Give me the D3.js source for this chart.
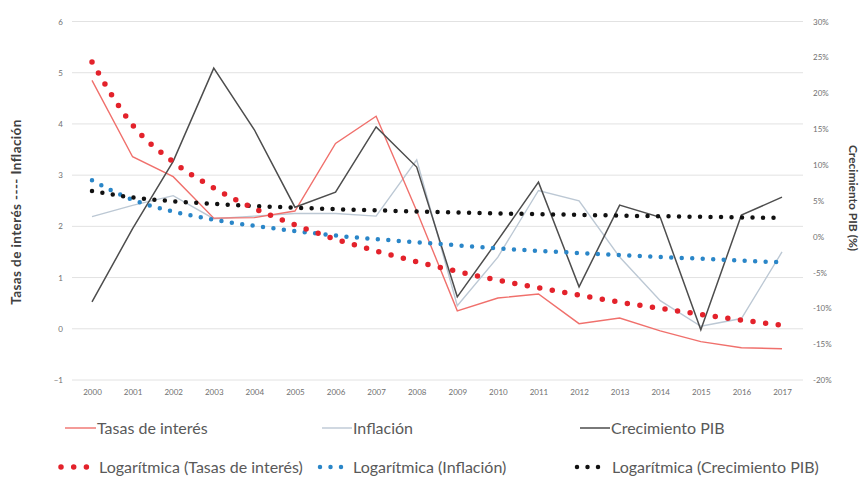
<!DOCTYPE html>
<html>
<head>
<meta charset="utf-8">
<script src="https://cdn.jsdelivr.net/npm/d3@7"></script>
<style>
  html, body { margin: 0; padding: 0; background: #fff; }
  svg { display: block; font-family: Lato, "Open Sans", sans-serif; }
</style>
</head>
<body>
<svg id="chart" width="863" height="478"></svg>
<script>
// ---- data ----
const years = ["2000","2001","2002","2003","2004","2005","2006","2007","2008","2009","2010","2011","2012","2013","2014","2015","2016","2017"];
const tasas = [4.85, 3.36, 2.97, 2.16, 2.17, 2.3, 3.62, 4.15, 2.3, 0.35, 0.6, 0.68, 0.1, 0.21, -0.04, -0.25, -0.37, -0.39];
const inflacion = [2.19, 2.41, 2.6, 2.15, 2.2, 2.25, 2.25, 2.2, 3.3, 0.45, 1.4, 2.7, 2.5, 1.4, 0.55, 0.05, 0.2, 1.5];
const pib = [-9.1, 1.1, 10.5, 23.5, 14.9, 4.1, 6.2, 15.3, 9.7, -8.4, -0.5, 7.6, -7.0, 4.4, 2.7, -13.0, 3.0, 5.5];
const logTasas = [5.21, 3.98, 3.26, 2.75, 2.35, 2.03, 1.75, 1.52, 1.31, 1.12, 0.95, 0.80, 0.66, 0.52, 0.40, 0.28, 0.17, 0.07];
const logInflacion = [2.90, 2.52, 2.29, 2.13, 2.01, 1.91, 1.82, 1.75, 1.69, 1.63, 1.57, 1.52, 1.48, 1.44, 1.40, 1.37, 1.33, 1.30];
const logPib = [6.36, 5.46, 4.93, 4.56, 4.27, 4.03, 3.83, 3.66, 3.50, 3.37, 3.24, 3.13, 3.03, 2.93, 2.84, 2.76, 2.68, 2.60];
const leftTicks = [-1, 0, 1, 2, 3, 4, 5, 6];
const rightTicks = [-20, -15, -10, -5, 0, 5, 10, 15, 20, 25, 30];
const leftTitle = "Tasas de interés ---- Inflación";
const rightTitle = "Crecimiento PIB (%)";

// ---- layout ----
const svg = d3.select("#chart");
const plotL = 72, plotR = 803, plotT = 21.5, plotB = 380;
const x = d3.scalePoint().domain(years).range([92, 782]);
const yL = d3.scaleLinear().domain([-1, 6]).range([plotB, plotT]);
const yR = d3.scaleLinear().domain([-20, 30]).range([plotB, plotT]);

// gridlines
svg.append("g").selectAll("line").data(leftTicks).join("line")
  .attr("x1", plotL).attr("x2", plotR)
  .attr("y1", d => yL(d)).attr("y2", d => yL(d))
  .attr("stroke", "#e2e2e2").attr("stroke-width", 1);

// left axis
const axL = svg.append("g").attr("transform", `translate(${plotL - 9},0)`)
  .call(d3.axisLeft(yL).tickValues(leftTicks).tickSize(0).tickPadding(0).tickFormat(d3.format("d")));
axL.select(".domain").remove();
axL.selectAll("text").attr("font-size", 8).attr("fill", "#707070").attr("font-family", "Lato");

// right axis
const axR = svg.append("g").attr("transform", `translate(${plotR + 10},0)`)
  .call(d3.axisRight(yR).tickValues(rightTicks).tickSize(0).tickPadding(0).tickFormat(d => d + "%"));
axR.select(".domain").remove();
axR.selectAll("text").attr("font-size", 8).attr("fill", "#707070").attr("font-family", "Lato");

// bottom axis
const axB = svg.append("g").attr("transform", `translate(0,${plotB + 9})`)
  .call(d3.axisBottom(x).tickSize(0).tickPadding(0));
axB.select(".domain").remove();
axB.selectAll("text").attr("font-size", 8).attr("fill", "#707070").attr("font-family", "Lato");

// axis titles
svg.append("text").attr("transform", `translate(21,212) rotate(-90)`)
  .attr("text-anchor", "middle").attr("font-size", 13.5).attr("font-weight", "bold")
  .attr("letter-spacing", 0.4).attr("fill", "#404040").text(leftTitle);
svg.append("text").attr("transform", `translate(849,198) rotate(90)`)
  .attr("text-anchor", "middle").attr("font-size", 12).attr("font-weight", "bold")
  .attr("fill", "#404040").text(rightTitle);

// series lines
const lineL = d3.line().x((d, i) => x(years[i])).y(d => yL(d));
const lineR = d3.line().x((d, i) => x(years[i])).y(d => yR(d));
const curveL = d3.line().x((d, i) => x(years[i])).y(d => yL(d)).curve(d3.curveMonotoneX);
const curveR = d3.line().x((d, i) => x(years[i])).y(d => yR(d)).curve(d3.curveMonotoneX);

svg.append("path").datum(inflacion).attr("d", lineL)
  .attr("fill", "none").attr("stroke", "#bcc8d4").attr("stroke-width", 1.4);
svg.append("path").datum(tasas).attr("d", lineL)
  .attr("fill", "none").attr("stroke", "#f0706c").attr("stroke-width", 1.4);
svg.append("path").datum(pib).attr("d", lineR)
  .attr("fill", "none").attr("stroke", "#4d4d4d").attr("stroke-width", 1.5);

// trendlines (dotted)
const redDots = { color: "#e3222b", w: 5.5, dash: "0 12.7" };
const blueDots = { color: "#2a86c8", w: 4.5, dash: "0 10.5" };
const blackDots = { color: "#111111", w: 4.5, dash: "0 10.5" };

svg.append("path").datum(logInflacion).attr("d", curveL)
  .attr("fill", "none").attr("stroke", blueDots.color).attr("stroke-width", blueDots.w)
  .attr("stroke-linecap", "round").attr("stroke-dasharray", blueDots.dash);
svg.append("path").datum(logPib).attr("d", curveR)
  .attr("fill", "none").attr("stroke", blackDots.color).attr("stroke-width", blackDots.w)
  .attr("stroke-linecap", "round").attr("stroke-dasharray", blackDots.dash);
svg.append("path").datum(logTasas).attr("d", curveL)
  .attr("fill", "none").attr("stroke", redDots.color).attr("stroke-width", redDots.w)
  .attr("stroke-linecap", "round").attr("stroke-dasharray", redDots.dash);

// legend
const legendFont = 16;
const leg = svg.append("g").attr("font-size", legendFont).attr("fill", "#595959").attr("font-family", "Lato");
const row1 = 428, row2 = 467;
const legendItems = [
  { label: "Tasas de interés", y: row1, x1: 65, x2: 96, tx: 97, color: "#f0706c", w: 1.4 },
  { label: "Inflación", y: row1, x1: 322, x2: 352, tx: 353, color: "#bcc8d4", w: 1.4 },
  { label: "Crecimiento PIB", y: row1, x1: 580, x2: 610, tx: 611, color: "#4d4d4d", w: 1.5 },
  { label: "Logarítmica (Tasas de interés)", y: row2, x1: 61, x2: 97, tx: 99, dots: redDots },
  { label: "Logarítmica (Inflación)", y: row2, x1: 320, x2: 347, tx: 353, dots: blueDots },
  { label: "Logarítmica (Crecimiento PIB)", y: row2, x1: 577, x2: 604, tx: 612, dots: blackDots }
];
legendItems.forEach(it => {
  const ln = leg.append("line").attr("x1", it.x1).attr("x2", it.x2).attr("y1", it.y).attr("y2", it.y);
  if (it.dots) {
    ln.attr("stroke", it.dots.color).attr("stroke-width", it.dots.w)
      .attr("stroke-linecap", "round").attr("stroke-dasharray", it.dots.dash);
  } else {
    ln.attr("stroke", it.color).attr("stroke-width", it.w);
  }
  leg.append("text").attr("x", it.tx).attr("y", it.y).attr("dy", "0.35em").text(it.label);
});
</script>
</body>
</html>
